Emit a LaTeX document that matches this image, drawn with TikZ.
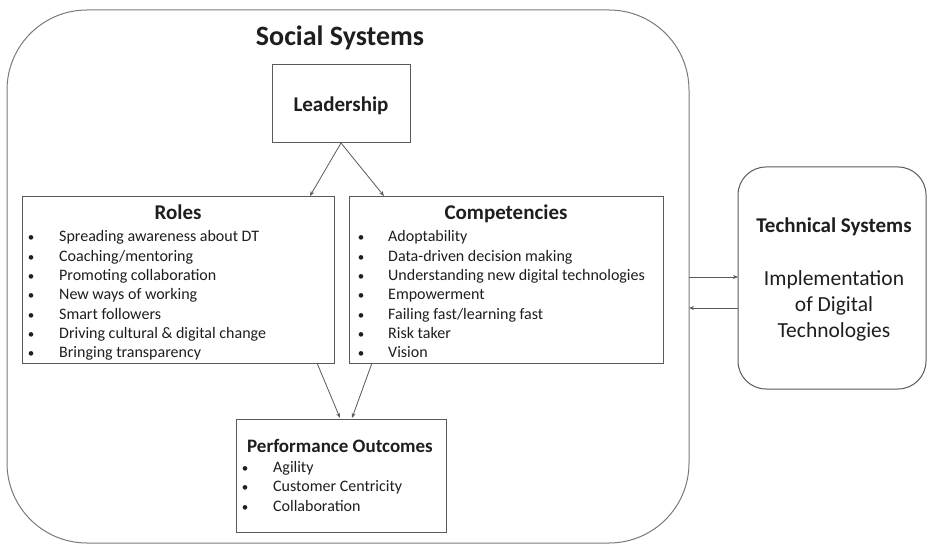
\documentclass[tikz,border=0pt]{standalone}
\usepackage{fontspec}
\setmainfont{Carlito}
\usetikzlibrary{arrows.meta,calc}
\definecolor{boxline}{HTML}{5A5A5A}
\definecolor{outerline}{HTML}{7A7A7A}
\definecolor{txt}{HTML}{1E1E1E}
\begin{document}
\begin{tikzpicture}[x=1pt,y=-1pt,
  frame/.style={draw=boxline, line width=1pt, inner sep=0pt, outer sep=0pt},
  arr/.style={draw=boxline, line width=0.8pt, -{Stealth[length=5pt,width=4pt]}},
  head/.style={font=\fontsize{21}{25}\selectfont\bfseries, text=txt, anchor=base, inner sep=0pt},
  item/.style={font=\fontsize{16}{19}\selectfont, text=txt, anchor=base west, inner sep=0pt},
  bul/.style={font=\fontsize{13}{16}\selectfont, text=txt, anchor=base, inner sep=0pt},
  tline/.style={font=\fontsize{21.5}{26}\selectfont, text=txt, anchor=base, inner sep=0pt},
]
\useasboundingbox (0,0) rectangle (928,545);
\fill[white] (0,0) rectangle (928,545);

% outer social systems frame
\node[frame, draw=outerline, rounded corners=80pt, minimum width=682pt, minimum height=533pt] (social) at (348,276.5) {};
\node[head, font=\fontsize{28}{32}\selectfont\bfseries] (title) at (340,46) {Social Systems};

% boxes
\node[frame, minimum width=138pt, minimum height=78pt] (lead) at (341,104) {};
\node[head] (leadlabel) at (341,112) {Leadership};

\node[frame, minimum width=312pt, minimum height=166pt] (roles) at (178,280) {};
\node[frame, minimum width=314pt, minimum height=166pt] (comp) at (506,280) {};
\node[frame, minimum width=210pt, minimum height=113pt] (perf) at (341,475.5) {};
\node[frame, rounded corners=28pt, minimum width=188pt, minimum height=222pt] (tech) at (832,278) {};

% roles
\node[head] (rolestitle) at (178,220) {Roles};
\foreach \t [count=\i] in {Spreading awareness about DT, Coaching/mentoring, Promoting collaboration, New ways of working, Smart followers, Driving cultural \& digital change, Bringing transparency}{
  \node[bul] (rb\i) at (31,222.7+19.3*\i) {•};
  \node[item] (rt\i) at (59,222.7+19.3*\i) {\t};
}

% competencies
\node[head] (comptitle) at (506,220) {Competencies};
\foreach \t [count=\i] in {Adoptability, Data-driven decision making, Understanding new digital technologies, Empowerment, Failing fast/learning fast, Risk taker, Vision}{
  \node[bul] (cb\i) at (361,222.7+19.3*\i) {•};
  \node[item] (ct\i) at (388,222.7+19.3*\i) {\t};
}

% performance outcomes
\node[head, font=\fontsize{19}{23}\selectfont\bfseries] (perftitle) at (340,452) {Performance Outcomes};
\foreach \t [count=\i] in {Agility, Customer Centricity, Collaboration}{
  \node[bul] (pb\i) at (245,452.5+19.5*\i) {•};
  \node[item] (pt\i) at (273,452.5+19.5*\i) {\t};
}

% technical systems
\node[head] (techtitle) at (834,233) {Technical Systems};
\node[tline] (tech1) at (834,285) {Implementation};
\node[tline] (tech2) at (834,311) {of Digital};
\node[tline] (tech3) at (834,337) {Technologies};

% connectors
\draw[arr] (lead.south) -- ($(roles.north east)+(-24,-1)$);
\draw[arr] (lead.south) -- ($(comp.north west)+(35,-1)$);
\draw[arr] ($(roles.south east)+(-17,0)$) -- ($(perf.north)+(-1,-1)$);
\draw[arr] ($(comp.south west)+(23,0)$) -- ($(perf.north)+(11,-1)$);
\draw[arr] ($(social.east)+(0,0.5)$) -- ($(tech.west)+(0,-1)$);
\draw[arr] ($(tech.west)+(0,30)$) -- ($(social.east)+(0,31.5)$);
\end{tikzpicture}
\end{document}
